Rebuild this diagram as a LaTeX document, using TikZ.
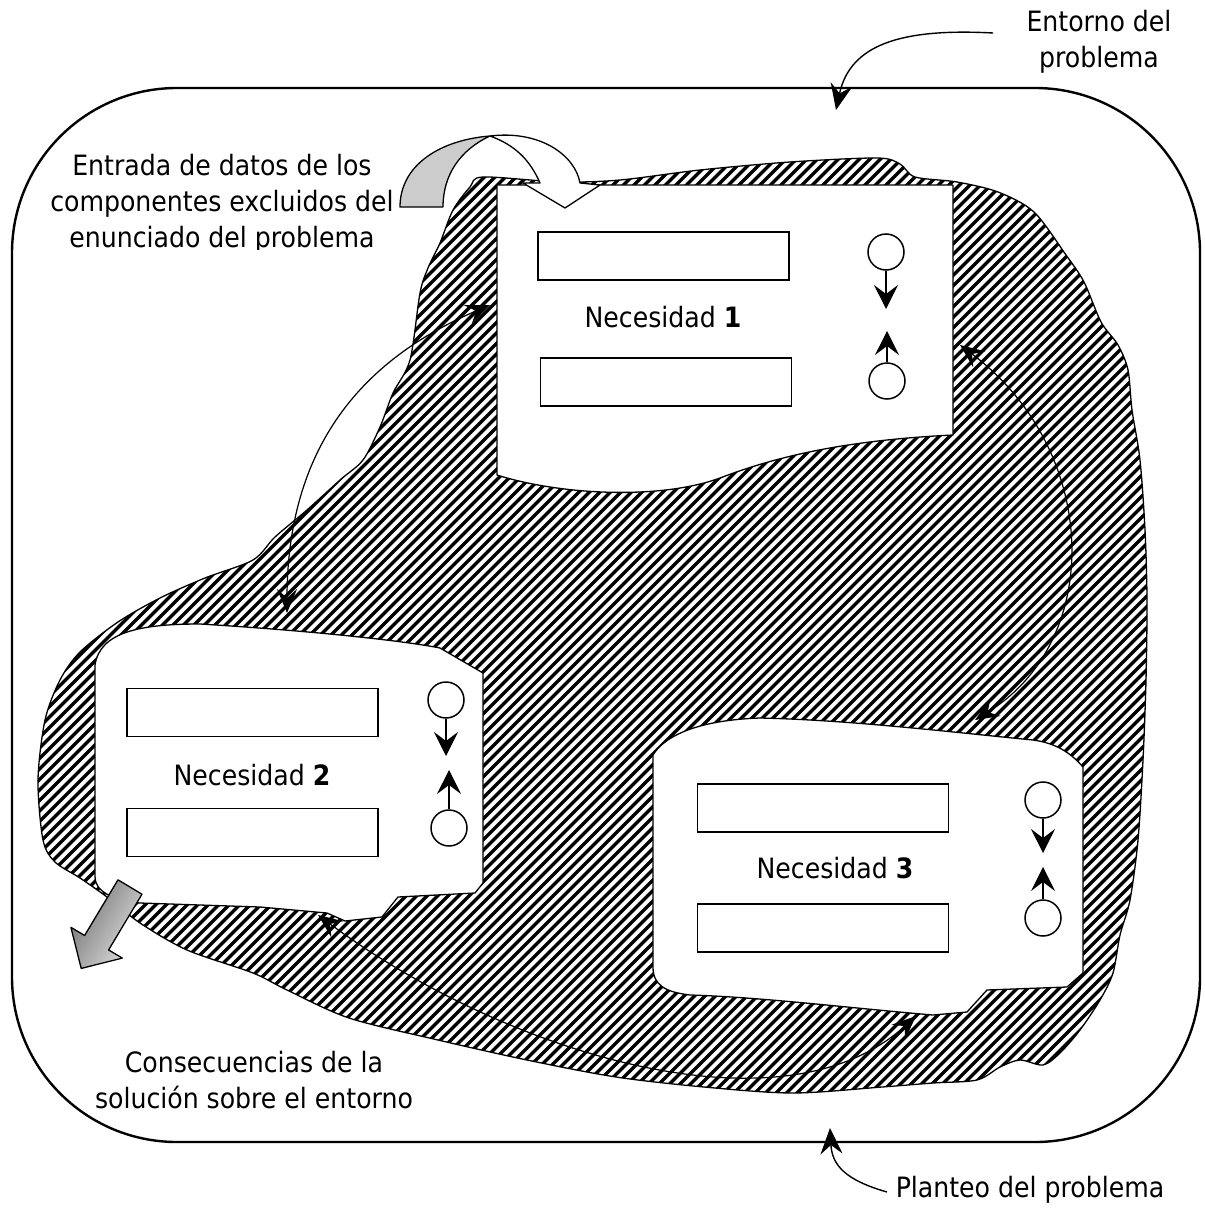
\documentclass[tikz,border=0pt]{standalone}
\usepackage{fontspec}
\setmainfont{DejaVu Sans Condensed}
\usetikzlibrary{arrows.meta}

\tikzset{
  frame/.style={line width=2.4pt},
  edge/.style={line width=1.3pt, line join=round},
  field/.style={draw, line width=1.6pt, minimum width=251pt, minimum height=48pt, inner sep=0pt},
  ball/.style={draw, line width=1.5pt, circle, minimum size=36pt, inner sep=0pt},
  flow/.style={line width=1.3pt, -{Stealth[length=24pt,width=24pt,inset=9pt]}},
  link/.style={line width=1.2pt,
    {Stealth[length=24pt,width=20pt,inset=9pt]}-{Stealth[length=24pt,width=20pt,inset=9pt]}},
  pointer/.style={line width=1.4pt, -{Stealth[length=26pt,width=22pt,inset=9pt]}},
  lbl/.style={font=\fontsize{28}{36}\selectfont, align=center, inner sep=0pt},
  stripe/.style={line width=3.4pt},
}

\begin{document}
\begin{tikzpicture}[x=1pt,y=-1pt]
\useasboundingbox (0,0) rectangle (1204,1209);

% environment frame
\draw[frame, rounded corners=165pt] (12,88) rectangle (1200,1142);

% problem region (hatched blob)
\path[save path=\blobpath] plot[smooth cycle, tension=0.5] coordinates {
  (483,177) (560,182) (620,180) (700,170) (790,162) (877,158) (900,164)
  (915,177) (957,182) (998,192) (1034,212) (1066,255) (1084,282) (1101,322)
  (1118,345) (1128,370) (1132,410) (1140,460) (1145,530) (1147,600)
  (1146,680) (1143,760) (1138,840) (1130,900) (1120,935) (1113,973)
  (1100,1000) (1080,1030) (1060,1053) (1043,1065) (1020,1060) (1000,1067)
  (977,1080) (933,1083) (882,1087) (793,1093) (704,1087) (616,1077)
  (527,1060) (438,1040) (349,1018) (287,990) (253,973) (187,950)
  (140,923) (107,897) (80,878) (55,862) (43,840) (38,780) (45,720)
  (60,680) (80,652) (118,622) (160,598) (205,578) (253,560) (275,537)
  (307,510) (340,480) (363,460) (380,427) (393,393) (410,360) (420,293)
  (428,268) (440,243) (453,210) (470,187)};
\begin{scope}
  \clip[use path=\blobpath];
  \foreach \c in {0,10.5,...,2450}
    \draw[stripe] (\c,0) -- ({\c-1300},1300);
\end{scope}
\draw[edge, use path=\blobpath];

% need 1
\draw[edge, fill=white] (497,185) -- (953,185) -- (953,435)
  .. controls (850,440) and (780,455) .. (720,478)
  .. controls (660,500) and (560,495) .. (497,475) -- cycle;
% need 2
\draw[edge, fill=white] (95,877) -- (95,665)
  .. controls (100,632) and (140,624) .. (200,624)
  .. controls (300,630) and (400,640) .. (440,648)
  -- (483,673) -- (483,883) -- (475,893) -- (398,897) -- (382,917)
  -- (345,921) -- (327,913) -- (260,907) -- (140,903)
  .. controls (110,900) and (95,890) .. cycle;
% need 3
\draw[edge, fill=white] (653,967) -- (653,755)
  .. controls (665,735) and (700,720) .. (760,718)
  .. controls (850,720) and (950,732) .. (1033,740)
  .. controls (1055,743) and (1070,752) .. (1083,767)
  -- (1083,973) -- (1075,980) -- (1067,987) -- (987,990) -- (967,1012)
  -- (933,1015) .. controls (850,1008) and (760,997) .. (690,995)
  .. controls (665,992) and (653,985) .. cycle;

% contents of need 1
\node[field] (f1a) at (663.5,256) {};
\node[field] (f1b) at (666,382) {};
\node[lbl] (n1) at (663,317) {Necesidad \textbf{1}};
\node[ball] (b1a) at (886,252) {};
\node[ball] (b1b) at (887,381) {};
\coordinate (t1a) at (886,309);
\coordinate (t1b) at (887,331);
\draw[flow] (b1a.south) -- (t1a);
\draw[flow] (b1b.north) -- (t1b);

% contents of need 2
\node[field] (f2a) at (252.5,712.5) {};
\node[field] (f2b) at (252.5,832.5) {};
\node[lbl] (n2) at (252,775) {Necesidad \textbf{2}};
\node[ball] (b2a) at (446,700) {};
\node[ball] (b2b) at (449,828) {};
\coordinate (t2a) at (446,756);
\coordinate (t2b) at (449,770);
\draw[flow] (b2a.south) -- (t2a);
\draw[flow] (b2b.north) -- (t2b);

% contents of need 3
\node[field] (f3a) at (823,808) {};
\node[field] (f3b) at (823,928) {};
\node[lbl] (n3) at (835,868) {Necesidad \textbf{3}};
\node[ball] (b3a) at (1043,800) {};
\node[ball] (b3b) at (1043,918) {};
\coordinate (t3a) at (1043,853);
\coordinate (t3b) at (1043,867);
\draw[flow] (b3a.south) -- (t3a);
\draw[flow] (b3b.north) -- (t3b);

% relations between needs
\coordinate (a1) at (490,305);
\coordinate (a2) at (287,613);
\draw[link] (a1) .. controls (380,352) and (287,430) .. (a2);
\coordinate (r1) at (960,345);
\coordinate (r2) at (975,720);
\draw[link] (r1) .. controls (1100,450) and (1105,640) .. (r2);
\coordinate (s1) at (318,915);
\coordinate (s2) at (916,1016);
\draw[link] (s1) .. controls (500,1050) and (780,1140) .. (s2);

% incoming data: curved 3D arrow
\draw[edge, fill=black!20] (400,207)
  .. controls (400,165) and (440,140) .. (490,136)
  .. controls (460,150) and (443,175) .. (443,207) -- cycle;
\draw[edge, fill=white] (490,136)
  .. controls (540,130) and (575,155) .. (580,183)
  -- (600,185) -- (565,208) -- (523,183) -- (540,183)
  .. controls (530,160) and (515,145) .. (490,136) -- cycle;

% outgoing consequences: shaded block arrow
\draw[edge, left color=black!55, right color=black!12, shading angle=59]
  (118,879.8) -- (142,894.2) -- (108.6,949.9) -- (122.3,958.1)
  -- (81.2,968.4) -- (70.9,927.3) -- (84.6,935.5) -- cycle;

% labels
\begin{scope}
  \clip (0,100) rectangle (430,249);
  \node[lbl] (inlbl) at (222,204)
    {Entrada de datos de los\\componentes excluidos del\\enunciado del problema};
\end{scope}
\node[lbl] (outlbl) at (254,1080) {Consecuencias de la\\soluci\'on sobre el entorno};
\node[lbl] (envlbl) at (1099,42) {Entorno del\\problema};
\node[lbl] (planlbl) at (1030,1190) {Planteo del problema};

\coordinate (e0) at (993,33);
\coordinate (e1) at (836,110);
\draw[pointer] (e0) .. controls (900,28) and (850,45) .. (e1);
\coordinate (p0) at (887,1192);
\coordinate (p1) at (830,1128);
\draw[pointer] (p0) .. controls (845,1180) and (832,1165) .. (p1);
\end{tikzpicture}
\end{document}
